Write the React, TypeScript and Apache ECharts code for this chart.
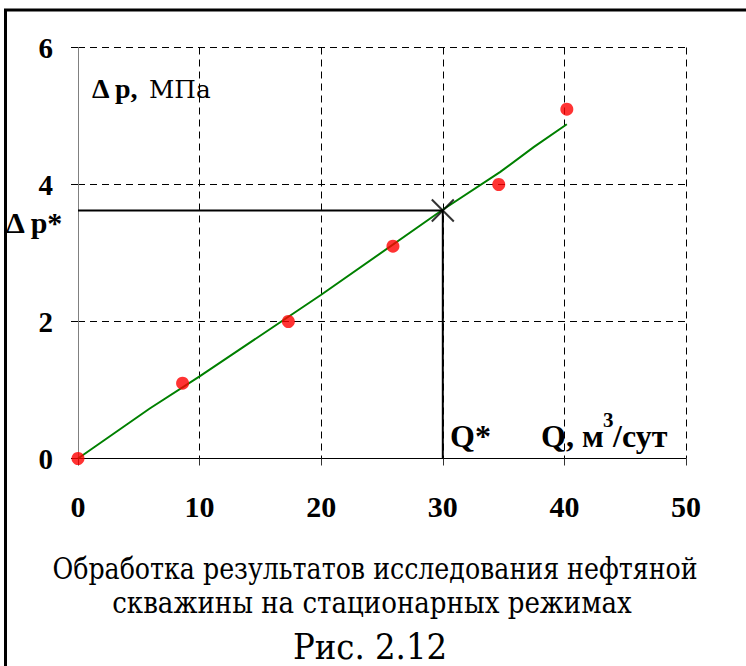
import React, { useEffect, useRef } from "react";
import * as echarts from "echarts";

// Measured well test points: flow rate Q (m3/day) and pressure drawdown Δp (MPa)
const qMeasured = [0, 8.6, 17.3, 25.9, 34.6, 40.2];
const dpMeasured = [0, 1.1, 2.0, 3.1, 4.0, 5.1];

// Smoothed indicator curve through the measurements
const qCurve = [0, 5.9, 10, 20, 29.9, 34.7, 37.5, 40.2];
const dpCurve = [0, 0.73, 1.2, 2.39, 3.62, 4.18, 4.55, 4.88];

// Operating point
const qStar = 30;
const dpStar = 3.62;

// Axis ranges
const xTicks = [0, 10, 20, 30, 40, 50];
const yTicks = [0, 2, 4, 6];

const captionLines = [
  "Обработка результатов исследования нефтяной",
  "скважины на стационарных режимах",
  "Рис. 2.12",
];

const SERIF_BOLD = "Liberation Serif";
const SERIF_REG = "DejaVu Serif Condensed";
const DASH = [7, 5];

export default function App() {
  const ref = useRef<HTMLDivElement>(null);

  useEffect(() => {
    if (!ref.current) return;
    const chart = echarts.init(ref.current, null, { renderer: "svg" });

    const txt = (
      text: string,
      x: number,
      y: number,
      size: number,
      bold: boolean,
      align: string = "left",
      scaleX: number = 1
    ) => ({
      type: "text",
      silent: true,
      z: 10,
      x,
      y,
      scaleX,
      style: {
        text,
        x: 0,
        y: 0,
        fill: "#000",
        fontFamily: bold ? SERIF_BOLD : SERIF_REG,
        fontSize: size,
        fontWeight: bold ? "bold" : "normal",
        align,
        textAlign: align,
        verticalAlign: "middle",
        textVerticalAlign: "middle",
      },
    });

    chart.setOption({
      animation: false,
      backgroundColor: "#fff",
      grid: { left: 78, right: 60, top: 47.5, bottom: 207.5 },
      xAxis: {
        type: "value",
        min: xTicks[0],
        max: xTicks[xTicks.length - 1],
        interval: xTicks[1] - xTicks[0],
        axisLine: { show: true, onZero: false, lineStyle: { color: "#000", width: 1 } },
        axisTick: { show: true, length: 10, lineStyle: { color: "#333", type: DASH } },
        axisLabel: {
          color: "#000",
          fontFamily: SERIF_BOLD,
          fontWeight: "bold",
          fontSize: 30,
          margin: 33,
        },
        splitLine: { show: true, lineStyle: { color: "#000", width: 1, type: DASH } },
      },
      yAxis: {
        type: "value",
        min: yTicks[0],
        max: yTicks[yTicks.length - 1],
        interval: yTicks[1] - yTicks[0],
        axisLine: { show: true, lineStyle: { color: "#808080", width: 1 } },
        axisTick: { show: true, length: 10, lineStyle: { color: "#000", type: DASH } },
        axisLabel: {
          color: "#000",
          fontFamily: SERIF_BOLD,
          fontWeight: "bold",
          fontSize: 29,
          margin: 25,
          padding: [5, 0, 0, 0],
        },
        splitLine: { show: true, lineStyle: { color: "#000", width: 1, type: DASH } },
      },
      series: [
        {
          type: "line",
          data: qCurve.map((q, i) => [q, dpCurve[i]]),
          showSymbol: false,
          symbol: "none",
          lineStyle: { color: "#008000", width: 2 },
          silent: true,
          z: 2,
        },
        {
          type: "line",
          data: [
            [0, dpStar],
            [qStar, dpStar],
            [qStar, 0],
          ],
          showSymbol: false,
          symbol: "none",
          lineStyle: { color: "#000", width: 2 },
          silent: true,
          z: 3,
        },
        {
          type: "scatter",
          data: [[qStar, dpStar]],
          symbol: "path://M0 0L20 20M20 0L0 20",
          symbolSize: 22,
          itemStyle: { color: "none", borderColor: "#000", borderWidth: 2 },
          silent: true,
          z: 4,
        },
        {
          type: "scatter",
          data: qMeasured.map((q, i) => [q, dpMeasured[i]]),
          symbol: "circle",
          symbolSize: 13,
          itemStyle: { color: "#ff0000" },
          silent: true,
          z: 5,
        },
      ],
      graphic: [
        {
          type: "rect",
          silent: true,
          z: 20,
          shape: { x: 5.5, y: 10, width: 800, height: 700 },
          style: { fill: "none", stroke: "#000", lineWidth: 3 },
        },
        txt("Δ p,", 92, 88, 28, true),
        txt("МПа", 149, 89, 25, false, "left", 1.1),
        txt("Δ p*", 6, 222, 30, true),
        txt("Q*", 450, 436, 32, true),
        txt("Q, м", 541, 436, 32, true),
        txt("3", 603, 420, 21, true),
        txt("/сут", 613, 436, 32, true),
        txt(captionLines[0], 375, 569, 29, false, "center", 0.97),
        txt(captionLines[1], 372, 603, 29, false, "center"),
        txt(captionLines[2], 370, 646, 36, false, "center"),
      ],
    });

    return () => chart.dispose();
  }, []);

  return (
    <div
      ref={ref}
      style={{ position: "fixed", left: 0, top: 0, width: 746, height: 666, background: "#fff" }}
    />
  );
}
